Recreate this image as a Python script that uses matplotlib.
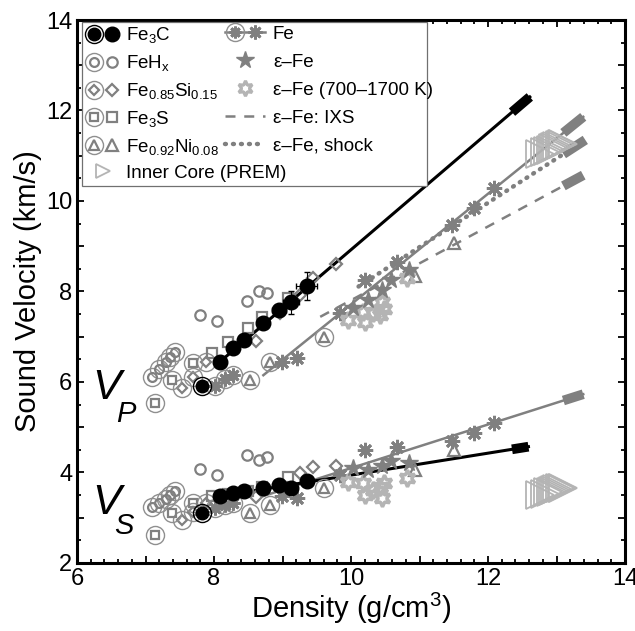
import numpy as np
import matplotlib.pyplot as plt
from matplotlib.lines import Line2D
from matplotlib.legend_handler import HandlerTuple
from matplotlib.ticker import MultipleLocator, FuncFormatter

plt.rcParams['font.family'] = ['Liberation Sans', 'DejaVu Sans']
plt.rcParams['mathtext.fontset'] = 'custom'
plt.rcParams['mathtext.rm'] = 'Liberation Sans'
plt.rcParams['mathtext.it'] = 'Liberation Sans:italic'

# ----- data (density g/cm3, velocities km/s) -----
# Fe3C, first point = ambient (ringed)
fe3c_rho = [7.82, 8.09, 8.28, 8.44, 8.71, 8.95, 9.12, 9.35]
fe3c_vp = [5.92, 6.45, 6.76, 6.93, 7.31, 7.59, 7.76, 8.12]
fe3c_vs = [3.10, 3.48, 3.54, 3.58, 3.65, 3.72, 3.65, 3.82]
fe3c_vp_xerr = [0, 0, 0, 0, 0, 0.10, 0.12, 0.15]
fe3c_vp_yerr = [0, 0, 0, 0, 0, 0.10, 0.25, 0.30]

feh_ring_rho = [7.09, 7.20, 7.30, 7.36, 7.43]
feh_ring_vp = [6.12, 6.28, 6.45, 6.55, 6.67]
feh_ring_vs = [3.23, 3.32, 3.42, 3.50, 3.60]
feh_rho = [7.80, 8.05, 8.48, 8.65, 8.77]
feh_vp = [7.48, 7.35, 7.80, 8.02, 7.96]
feh_vs = [4.07, 3.94, 4.39, 4.28, 4.34]

fesi_ring_rho = [7.53, 7.69, 7.89]
fesi_ring_vp = [5.86, 6.12, 6.45]
fesi_ring_vs = [2.95, 3.13, 3.32]
fesi_rho = [8.62, 8.96, 9.26, 9.45, 9.78]
fesi_vp = [6.91, 7.52, 7.92, 8.30, 8.61]
fesi_vs = [3.45, 3.70, 3.98, 4.13, 4.14]

fes_ring_rho = [7.14, 7.38, 7.70]
fes_ring_vp = [5.53, 6.04, 6.41]
fes_ring_vs = [2.62, 3.10, 3.32]
fes_rho = [7.97, 8.21, 8.50, 8.70, 9.08]
fes_vp = [6.63, 6.89, 7.19, 7.44, 7.85]
fes_vs = [3.48, 3.52, 3.60, 3.69, 3.91]

feni_ring_rho = [8.53, 8.82, 9.60]
feni_ring_vp = [6.04, 6.45, 7.00]
feni_ring_vs = [3.10, 3.28, 3.65]
feni_rho = [10.93, 11.51]
feni_vp = [8.34, 9.08]
feni_vs = [4.06, 4.50]

fe_ring_rho = [8.01, 8.16, 8.28]
fe_ring_vp = [5.91, 6.06, 6.15]
fe_ring_vs = [3.21, 3.28, 3.32]
fe_rho = [8.99, 9.21, 9.84, 10.20, 10.67, 11.47, 11.79, 12.08]
fe_vp = [6.45, 6.52, 7.52, 8.25, 8.66, 9.47, 9.84, 10.28]
fe_vs = [3.47, 3.43, 3.95, 4.50, 4.57, 4.70, 4.87, 5.09]

eps_rho = [10.03, 10.25, 10.45, 10.59, 10.84]
eps_vp = [7.63, 7.81, 8.03, 8.25, 8.47]
eps_vs = [4.10, 4.05, 4.15, 4.25, 4.22]

hot_rho = [9.96, 10.18, 10.20, 10.32, 10.42, 10.45, 10.48, 10.81]
hot_vp = [7.37, 7.55, 7.33, 7.52, 7.48, 7.77, 7.62, 8.29]
hot_vs = [3.80, 3.76, 3.50, 3.62, 3.69, 3.43, 3.76, 3.87]

# PREM inner core
prem_rho = [12.764, 12.825, 12.871, 12.912, 12.949, 12.982, 13.010, 13.054, 13.080, 13.089]
prem_vp = [11.028, 11.073, 11.105, 11.135, 11.162, 11.185, 11.206, 11.237, 11.256, 11.262]
prem_vs = [3.504, 3.535, 3.558, 3.579, 3.598, 3.614, 3.628, 3.650, 3.663, 3.668]

# fitted trends: end points and start of the inner-core (thick) part
fe3c_vp_fit_rho = [8.05, 12.61]
fe3c_vp_fit_v = [6.40, 12.30]
fe3c_vs_fit_rho = [8.05, 12.59]
fe3c_vs_fit_v = [3.47, 4.57]
fe3c_thick_from = 12.35
fe_vp_fit_rho = [8.72, 13.39]
fe_vp_fit_v = [6.15, 11.86]
fe_vs_fit_rho = [8.72, 13.39]
fe_vs_fit_v = [3.48, 5.73]
shock_fit_rho = [10.11, 13.42]
shock_fit_v = [8.11, 11.35]
ixs_fit_rho = [9.55, 13.39]
ixs_fit_v = [7.44, 10.57]
fe_thick_from = 13.10

gray = '#808080'
ringgray = '#8f8f8f'
light = '#b4b4b4'
ast = (8, 2, 0)
hexa = (6, 1, 0)

fig = plt.figure(figsize=(6.35, 6.31), dpi=100)
ax = fig.add_axes([0.1213, 0.1078, 0.863, 0.8605])


def fit_line(x, y, thick_from, color, ls='-', lw=1.8, **kw):
    ax.plot(x, y, color=color, ls=ls, lw=lw, zorder=2, **kw)
    xt = [thick_from, x[1]]
    yt = np.interp(xt, x, y)
    ax.plot(xt, yt, color=color, lw=7, solid_capstyle='butt', zorder=2)


fit_line(fe_vp_fit_rho, fe_vp_fit_v, fe_thick_from, gray)
fit_line(fe_vs_fit_rho, fe_vs_fit_v, fe_thick_from, gray)
fit_line(shock_fit_rho, shock_fit_v, fe_thick_from, gray, ls=(0, (0.2, 1.6)), lw=3.2,
         dash_capstyle='round')
fit_line(ixs_fit_rho, ixs_fit_v, fe_thick_from, gray, ls=(0, (4, 3.5)), lw=1.8)
fit_line(fe3c_vp_fit_rho, fe3c_vp_fit_v, fe3c_thick_from, 'k', lw=2.2)
fit_line(fe3c_vs_fit_rho, fe3c_vs_fit_v, fe3c_thick_from, 'k', lw=2.2)

# PREM inner core
for v in (prem_vp, prem_vs):
    ax.plot(prem_rho, v, ls='none', marker='>', ms=20, mfc='none', mec=light, mew=1.3, zorder=3)

ring_kw = dict(ls='none', marker='o', ms=13, mfc='none', mec=ringgray, mew=1.0, zorder=4)
open_kw = dict(ls='none', mfc='none', mec=gray, mew=1.6, zorder=4)

groups = [
    (feh_ring_rho, feh_ring_vp, feh_ring_vs, feh_rho, feh_vp, feh_vs, 'o', 7.5),
    (fesi_ring_rho, fesi_ring_vp, fesi_ring_vs, fesi_rho, fesi_vp, fesi_vs, 'D', 6.5),
    (fes_ring_rho, fes_ring_vp, fes_ring_vs, fes_rho, fes_vp, fes_vs, 's', 6.5),
    (feni_ring_rho, feni_ring_vp, feni_ring_vs, feni_rho, feni_vp, feni_vs, '^', 8),
]
for rr, rvp, rvs, r, vp, vs, m, ms in groups:
    for yy in (rvp, rvs):
        ax.plot(rr, yy, **ring_kw)
        ax.plot(rr, yy, marker=m, ms=ms * 0.85, **open_kw)
    for yy in (vp, vs):
        ax.plot(r, yy, marker=m, ms=ms, **open_kw)

# Fe
for yy in (fe_ring_vp, fe_ring_vs):
    ax.plot(fe_ring_rho, yy, **ring_kw)
    ax.plot(fe_ring_rho, yy, ls='none', marker=ast, ms=10, mec=gray, mew=2, zorder=4)
for yy in (fe_vp, fe_vs):
    ax.plot(fe_rho, yy, ls='none', marker=ast, ms=11, mec=gray, mew=2, zorder=4)

for yy in (hot_vp, hot_vs):
    ax.plot(hot_rho, yy, ls='none', marker=hexa, ms=12, mfc='none', mec=light, mew=2.5, zorder=4)
for yy in (eps_vp, eps_vs):
    ax.plot(eps_rho, yy, ls='none', marker='*', ms=13, color=gray, mec=gray, zorder=4)

# Fe3C
ax.errorbar(fe3c_rho, fe3c_vp, xerr=fe3c_vp_xerr, yerr=fe3c_vp_yerr, fmt='none',
            ecolor='k', elinewidth=0.8, capsize=2, zorder=5)
for yy in (fe3c_vp, fe3c_vs):
    ax.plot(fe3c_rho[:1], yy[:1], ls='none', marker='o', ms=13, mfc='none', mec='k', mew=1.0, zorder=6)
    ax.plot(fe3c_rho[:1], yy[:1], ls='none', marker='o', ms=9, color='k', zorder=6)
    ax.plot(fe3c_rho[1:], yy[1:], ls='none', marker='o', ms=10.5, color='k', zorder=6)

ax.text(6.23, 5.62, 'V', fontsize=31, style='italic', ha='left', va='baseline')
ax.text(6.57, 5.12, 'P', fontsize=21, style='italic', ha='left', va='baseline')
ax.text(6.23, 3.08, 'V', fontsize=31, style='italic', ha='left', va='baseline')
ax.text(6.54, 2.64, 'S', fontsize=21, style='italic', ha='left', va='baseline')

ax.set_xlim(6, 14)
ax.set_ylim(2, 14)
ax.xaxis.set_major_locator(MultipleLocator(1))
ax.yaxis.set_major_locator(MultipleLocator(1))
ax.xaxis.set_minor_locator(MultipleLocator(0.2))
ax.yaxis.set_minor_locator(MultipleLocator(0.5))
even = FuncFormatter(lambda v, p: '%d' % v if round(v) % 2 == 0 else '')
ax.xaxis.set_major_formatter(even)
ax.yaxis.set_major_formatter(even)
ax.tick_params(which='both', direction='in', top=True, right=True, labelsize=17, width=1.3)
ax.tick_params(which='major', length=5)
ax.tick_params(which='minor', length=3)
for s in ax.spines.values():
    s.set_linewidth(2.2)
ax.set_xlabel('Density (g/cm$^3$)', fontsize=21, labelpad=1)
ax.set_ylabel('Sound Velocity (km/s)', fontsize=21, labelpad=3)


# ----- legend (two column blocks in one frame) -----
def L(**kw):
    base = dict(ls='none')
    base.update(kw)
    return Line2D([], [], **base)


def ring(c=ringgray):
    return L(marker='o', ms=13, mfc='none', mec=c, mew=1.0)


def pair(marker, ms, **kw):
    return ((ring(), L(marker=marker, ms=ms * 0.85, **kw)), L(marker=marker, ms=ms, **kw))


okw = dict(mfc='none', mec=gray, mew=1.6)
h_fe3c = ((ring('k'), L(marker='o', ms=9, color='k')), L(marker='o', ms=10.5, color='k'))
h_feh = pair('o', 7.5, **okw)
h_fesi = pair('D', 6.5, **okw)
h_fes = pair('s', 6.5, **okw)
h_feni = pair('^', 8, **okw)
h_prem = L(marker='>', ms=10, mfc='none', mec=light, mew=1.3)
fe_pair = pair(ast, 10, mec=gray, mew=2)
h_fe = (L(ls='-', color=gray, lw=1.8), fe_pair)
h_eps = L(marker='*', ms=13, color=gray)
h_hot = L(marker=hexa, ms=11, mfc='none', mec=light, mew=2.3)
h_ixs = L(ls=(0, (4, 3.5)), color=gray, lw=1.8)
h_shock = L(ls=(0, (0.2, 1.6)), color=gray, lw=3.2, dash_capstyle='round')

handles1 = [h_fe3c, h_feh, h_fesi, h_fes, h_feni, h_prem]
labels1 = ['Fe$_3$C', 'FeH$_\\mathrm{x}$', 'Fe$_{0.85}$Si$_{0.15}$', 'Fe$_3$S',
           'Fe$_{0.92}$Ni$_{0.08}$', 'Inner Core (PREM)']
handles2 = [h_fe, h_eps, h_hot, h_ixs, h_shock]
labels2 = ['Fe', '\u03b5\u2013Fe', '\u03b5\u2013Fe (700\u20131700 K)',
           '\u03b5\u2013Fe: IXS', '\u03b5\u2013Fe, shock']
hmap = {h: HandlerTuple(ndivide=None, pad=0) for h in
        (h_fe3c, h_feh, h_fesi, h_fes, h_feni, fe_pair)}

leg_kw = dict(handler_map=hmap, loc='upper left', borderaxespad=0, fontsize=13.5,
              borderpad=0.2, numpoints=1)
leg1 = ax.legend(handles1, labels1, bbox_to_anchor=(0.0086, 0.0, 0.6302, 0.997),
                 mode='expand', handlelength=1.9, handletextpad=0.25, labelspacing=0.42,
                 fancybox=False, framealpha=1, **leg_kw)
leg1.get_frame().set_edgecolor('#707070')
leg1.get_frame().set_linewidth(0.9)
leg1.set_zorder(10)
ax.add_artist(leg1)
leg2 = ax.legend(handles2, labels2, bbox_to_anchor=(0.2635, 0.997), labelspacing=0.58,
                 handlelength=2.1, handletextpad=0.45, frameon=False, **leg_kw)
leg2.set_zorder(11)

fig.savefig('out.png', dpi=100)
